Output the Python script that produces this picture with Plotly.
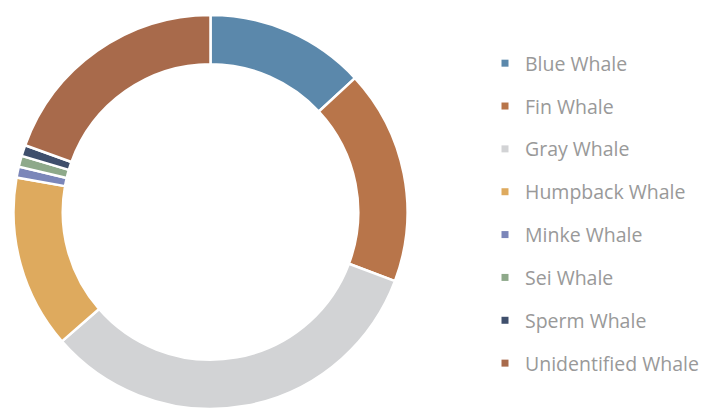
import plotly.graph_objects as go

species = ["Blue Whale", "Fin Whale", "Gray Whale", "Humpback Whale",
           "Minke Whale", "Sei Whale", "Sperm Whale", "Unidentified Whale"]
shares = [13.1, 17.6, 32.9, 14.2, 0.9, 0.9, 0.9, 19.5]
colors = ["#5b88ab", "#b8754a", "#d2d3d5", "#deaa5e",
          "#7b86b9", "#8ea98a", "#3f4f6c", "#a86a4b"]

W, H = 707, 409
cx, cy, r = 210.5, 212, 197

fig = go.Figure()
fig.add_trace(go.Pie(
    labels=species, values=shares, sort=False, direction="clockwise",
    rotation=0, hole=0.75, textinfo="none", hoverinfo="label+percent",
    marker=dict(colors=colors, line=dict(color="white", width=2.5)),
    showlegend=False,
    domain=dict(x=[max(0, (cx - r) / W), min(1, (cx + r) / W)],
                y=[max(0, (H - cy - r) / H), min(1, (H - cy + r) / H)]),
))

for name, col in zip(species, colors):
    fig.add_trace(go.Scatter(
        x=[None], y=[None], mode="markers", name=name, legendgroup=name,
        marker=dict(symbol="square", size=7, color=col),
        showlegend=True,
    ))

fig.update_layout(
    width=W, height=H,
    margin=dict(l=0, r=0, t=0, b=0),
    paper_bgcolor="white", plot_bgcolor="white",
    xaxis=dict(visible=False), yaxis=dict(visible=False),
    legend=dict(
        x=485 / W, y=1 - 44 / H, xanchor="left", yanchor="top",
        font=dict(family="Open Sans", size=19.5, color="#999999"),
        tracegroupgap=14.5, itemwidth=30, bgcolor="rgba(0,0,0,0)",
    ),
)

fig.write_html("out.html")
